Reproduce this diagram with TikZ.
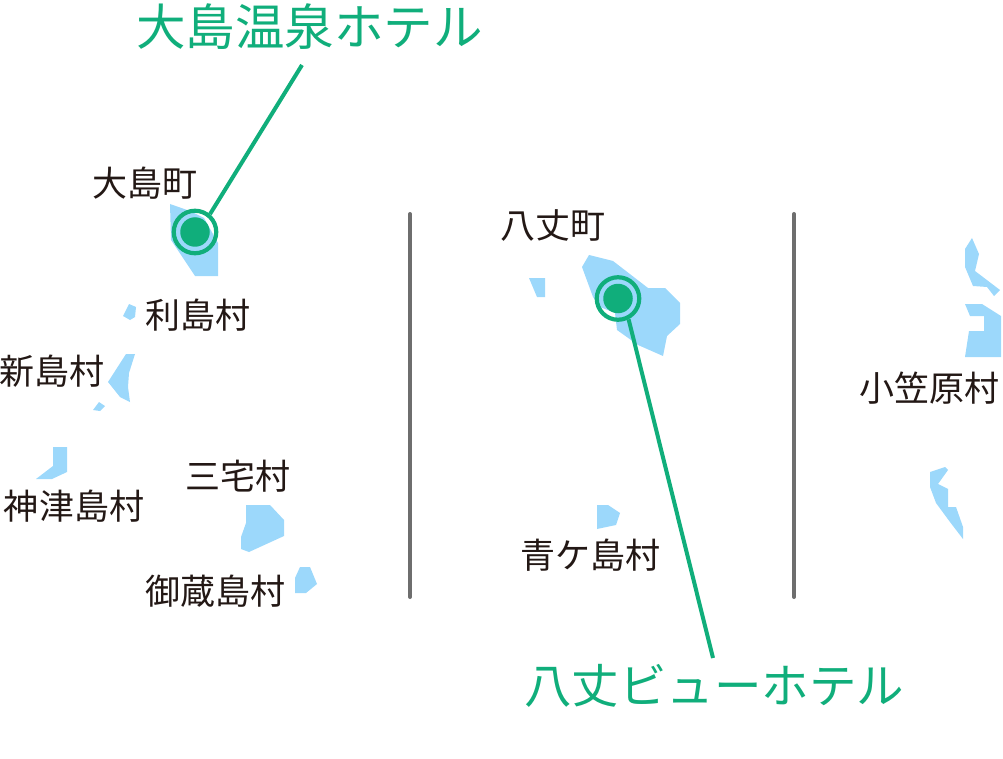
\documentclass[tikz,border=0pt]{standalone}
\usepackage{fontspec}
\setmainfont{Noto Sans CJK JP}
\usetikzlibrary{positioning}

\definecolor{isleblue}{HTML}{9CD8FB}
\definecolor{hotelgreen}{HTML}{10AE7B}
\definecolor{barcolor}{HTML}{6E6E6E}
\definecolor{labelink}{HTML}{231815}

\tikzset{
    isle/.style={fill=isleblue,draw=none},
    place/.style={inner sep=0pt,text=labelink,font=\fontsize{35}{35}\selectfont},
    hotel/.style={inner sep=0pt,text=hotelgreen,font=\fontsize{47.5}{47.5}\selectfont},
    hotelring/.style={circle,draw=hotelgreen,line width=4.2pt,minimum size=42.5pt,inner sep=0pt},
    hoteldot/.style={circle,fill=hotelgreen,minimum size=29.5pt,inner sep=0pt},
    leader/.style={draw=hotelgreen,line width=4pt},
    divider/.style={draw=barcolor,line width=4pt,line cap=round}
}

\begin{document}
\begin{tikzpicture}[x=1pt,y=-1pt]
    \useasboundingbox (0,0) rectangle (1003,759);

    % islands, left group
    \fill[isle] (170,204)--(190,211)--(204,218)--(218,243)--(218,276)--(195,276)--(171,240)--cycle;
    \fill[isle] (123,316)--(129,304)--(136,307)--(135,317)--(130,320)--cycle;
    \fill[isle] (126,354)--(135,354)--(129,373)--(128,387)--(130,402)--(120,397)--(108,382)--cycle;
    \fill[isle] (93,410)--(99,402)--(105,406)--(100,411)--cycle;
    \fill[isle] (53,447)--(67,447)--(67,472)--(52,479)--(36,479)--(53,466)--cycle;
    \fill[isle] (246,505)--(270,505)--(284,520)--(284,536)--(249,552)--(241,549)--(241,537)--(246,523)--cycle;
    \fill[isle] (300,567)--(310,567)--(317,584)--(306,593)--(295,593)--(295,578)--cycle;

    % islands, middle group
    \fill[isle] (589,255)--(613,261)--(648,288)--(665,288)--(680,303)--(680,324)--(667,336)--(663,356)--(638,345)--(617,330)--(615,313)--(600,307)--(593,297)--(582,267)--cycle;
    \fill[isle] (529,278)--(545,278)--(545,297)--(537,297)--cycle;
    \fill[isle] (597,505)--(608,505)--(620,513)--(616,525)--(597,529)--cycle;

    % islands, right group
    \fill[isle] (972,238)--(979,254)--(975,271)--(1000,290)--(994,296)--(987,287)--(973,286)--(965,267)--(965,249)--cycle;
    \fill[isle] (965,304)--(982,304)--(1001,316)--(1001,357)--(965,357)--(969,331)--(984,331)--(984,316)--(970,316)--cycle;
    \fill[isle] (930,472)--(945,467)--(948,470)--(938,484)--(948,489)--(948,507)--(956,507)--(963,527)--(963,539)--(950,522)--(936,503)--(930,487)--cycle;

    % dividers
    \coordinate (bar1top) at (410,214);
    \coordinate (bar1bot) at (410,597);
    \coordinate (bar2top) at (794,214);
    \coordinate (bar2bot) at (794,597);
    \draw[divider] (bar1top)--(bar1bot);
    \draw[divider] (bar2top)--(bar2bot);

    % place names
    \node[place] (oshima) at (145,183) {大島町};
    \node[place] (toshima) at (198,315) {利島村};
    \node[place] (niijima) at (52,371) {新島村};
    \node[place] (kozu) at (74,506) {神津島村};
    \node[place] (miyake) at (238,476) {三宅村};
    \node[place] (mikura) at (215,591) {御蔵島村};
    \node[place] (hachijo) at (553,226) {八丈町};
    \node[place] (aoga) at (590,555) {青ケ島村};
    \node[place] (ogasa) at (929,388) {小笠原村};

    % hotels
    \node[hotel,font=\fontsize{49.5}{49.5}\selectfont] (onsen) at (309.5,27) {大島温泉ホテル};
    \node[hotel] (view) at (714,686) {八丈ビューホテル};

    \node[hoteldot] (onsendot) at (195,232) {};
    \node[hotelring] (onsenring) at (195,232) {};
    \node[hoteldot] (viewdot) at (618,298.5) {};
    \node[hotelring] (viewring) at (618,298.5) {};

    \coordinate (onsenend) at (302,65);
    \coordinate (viewend) at (713,658);
    \draw[leader] (onsenend)--(onsenring.50);
    \draw[leader] (viewend)--(viewring.-63);
\end{tikzpicture}
\end{document}
